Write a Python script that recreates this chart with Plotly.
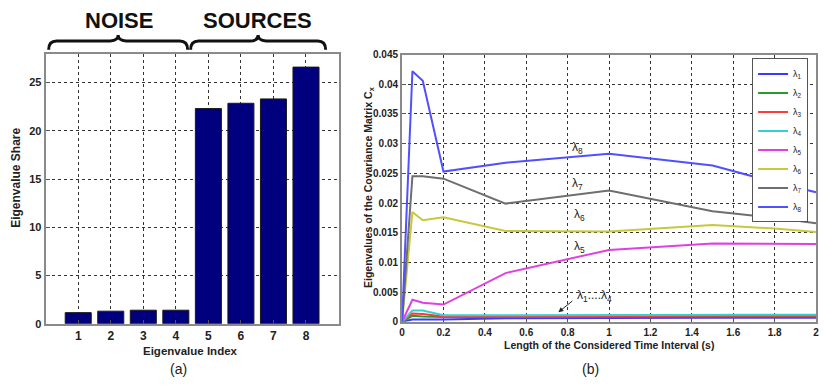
import plotly.graph_objects as go

W, H = 823, 389

# ---- panel (a): eigenvalue shares ----
eig_index = [1, 2, 3, 4, 5, 6, 7, 8]
eig_share = [1.15, 1.3, 1.4, 1.4, 22.3, 22.85, 23.3, 26.6]

# ---- panel (b): eigenvalues vs. interval length ----
interval_s = [0, 0.05, 0.1, 0.2, 0.5, 1.0, 1.5, 1.8, 2.0]
lam1 = [0, 0.0004, 0.0004, 0.0004, 0.0006, 0.0007, 0.0007, 0.0007, 0.0007]
lam2 = [0, 0.0010, 0.0009, 0.0008, 0.0008, 0.0009, 0.0009, 0.0009, 0.0009]
lam3 = [0, 0.0014, 0.0013, 0.0009, 0.0009, 0.0010, 0.0010, 0.0010, 0.0010]
lam4 = [0, 0.0019, 0.0019, 0.0011, 0.0011, 0.0011, 0.0012, 0.0012, 0.0012]
lam5 = [0, 0.0037, 0.0032, 0.0029, 0.0082, 0.0121, 0.0132, 0.0132, 0.0131]
lam6 = [0, 0.0185, 0.0171, 0.0176, 0.0153, 0.0152, 0.0163, 0.0157, 0.0151]
lam7 = [0, 0.0245, 0.0245, 0.0241, 0.0199, 0.0221, 0.0186, 0.0175, 0.0166]
lam8 = [0, 0.0422, 0.0406, 0.0253, 0.0268, 0.0283, 0.0263, 0.0235, 0.0218]
series = [lam1, lam2, lam3, lam4, lam5, lam6, lam7, lam8]
series_names = ["λ<sub>%d</sub>" % i for i in range(1, 9)]
series_colors = ["#3a3aff", "#2a9a2a", "#ff3a3a", "#35d0d0",
                 "#e040e0", "#c8c83c", "#6e6e6e", "#5050ff"]

FONT = "Liberation Sans, Arial, sans-serif"


def px(x):
    return x / W


def py(y):
    return 1 - y / H


fig = go.Figure()

fig.add_trace(go.Bar(
    x=eig_index, y=eig_share, width=0.8,
    marker=dict(color="#00007f", line=dict(color="#1a1a1a", width=1)),
    xaxis="x", yaxis="y", showlegend=False,
))

for name, vals, col in zip(series_names, series, series_colors):
    fig.add_trace(go.Scatter(
        x=interval_s, y=vals, mode="lines", name=name,
        line=dict(color=col, width=2),
        xaxis="x2", yaxis="y2",
    ))


def axis_style(size):
    return dict(
        showline=True, linecolor="#8a8a8a", linewidth=2, mirror=True,
        showgrid=True, gridcolor="#333333", griddash="dot", gridwidth=1,
        ticks="inside", ticklen=4, tickcolor="#555555",
        tickfont=dict(family=FONT, size=size, color="#222222", weight="bold"),
        zeroline=False,
    )


fig.update_layout(
    width=W, height=H,
    margin=dict(l=0, r=0, t=0, b=0),
    paper_bgcolor="white", plot_bgcolor="white",
    font=dict(family=FONT, color="#222222"),
    bargap=0.2,
    xaxis=dict(domain=[px(43), px(338)], range=[0, 9],
               tickvals=eig_index, **axis_style(12)),
    yaxis=dict(domain=[py(328), py(50)], range=[0, 28],
               tickvals=[0, 5, 10, 15, 20, 25], **axis_style(11)),
    xaxis2=dict(domain=[px(402), px(819)], range=[0, 2], dtick=0.2,
                anchor="y2", **axis_style(10)),
    yaxis2=dict(domain=[py(326), py(51)], range=[0, 0.045], dtick=0.005,
                anchor="x2", **axis_style(10)),
    legend=dict(
        x=px(811), y=py(55), xanchor="right", yanchor="top",
        bgcolor="white", bordercolor="#555555", borderwidth=1,
        font=dict(family=FONT, size=9, color="#222222"),
        itemwidth=30, tracegroupgap=0,
    ),
)

# axis titles and panel captions
notes = [
    dict(x=px(13), y=py(178), text="<b>Eigenvalue Share</b>", textangle=-90, size=12),
    dict(x=px(189), y=py(356), text="<b>Eigenvalue Index</b>", textangle=0, size=11.5),
    dict(x=px(177), y=py(375), text="(a)", textangle=0, size=14),
    dict(x=px(368), y=py(187),
         text="<b>Eigenvalues of the Covariance Matrix C<sub>x</sub></b>",
         textangle=-90, size=10.5),
    dict(x=px(610), y=py(350),
         text="<b>Length of the Considered Time Interval (s)</b>", textangle=0, size=10.5),
    dict(x=px(592), y=py(375), text="(b)", textangle=0, size=14),
]
for n in notes:
    fig.add_annotation(x=n["x"], y=n["y"], xref="paper", yref="paper",
                       xanchor="center", yanchor="middle",
                       text=n["text"], textangle=n["textangle"], showarrow=False,
                       font=dict(family=FONT, size=n["size"], color="#222222"))

# group headings over the bars
for label, cx in [("NOISE", 117), ("SOURCES", 256)]:
    fig.add_annotation(x=px(cx), y=py(16), xref="paper", yref="paper",
                       xanchor="center", yanchor="middle",
                       text="<b>%s</b>" % label, showarrow=False,
                       font=dict(family="Liberation Sans Narrow, Arial Narrow, sans-serif",
                                 size=22, color="#111111"))


def brace(x1, x2, yb, yl, yt, r=8):
    xm = (x1 + x2) / 2
    pts = [
        "M %f,%f" % (px(x1), py(yb)),
        "Q %f,%f %f,%f" % (px(x1), py(yl), px(x1 + r), py(yl)),
        "L %f,%f" % (px(xm - r), py(yl)),
        "Q %f,%f %f,%f" % (px(xm), py(yl), px(xm), py(yt)),
        "Q %f,%f %f,%f" % (px(xm), py(yl), px(xm + r), py(yl)),
        "L %f,%f" % (px(x2 - r), py(yl)),
        "Q %f,%f %f,%f" % (px(x2), py(yl), px(x2), py(yb)),
    ]
    return " ".join(pts)


for x1, x2 in [(46, 186), (189, 325)]:
    fig.add_shape(type="path", xref="paper", yref="paper",
                  path=brace(x1, x2, 46, 37, 31),
                  line=dict(color="#111111", width=3))

# curve labels in panel (b)
curve_labels = [
    (0.85, 0.0293, "λ<sub>8</sub>"),
    (0.85, 0.0232, "λ<sub>7</sub>"),
    (0.855, 0.0180, "λ<sub>6</sub>"),
    (0.855, 0.0126, "λ<sub>5</sub>"),
]
for xv, yv, t in curve_labels:
    fig.add_annotation(x=xv, y=yv, xref="x2", yref="y2", text=t, showarrow=False,
                       xanchor="center", yanchor="middle",
                       font=dict(family=FONT, size=12, color="#222222"))

fig.add_annotation(x=0.755, y=0.0016, xref="x2", yref="y2",
                   ax=0.83, ay=0.0037, axref="x2", ayref="y2",
                   text="", showarrow=True, arrowhead=2, arrowsize=1,
                   arrowwidth=1, arrowcolor="#222222")
fig.add_annotation(x=0.93, y=0.0043, xref="x2", yref="y2",
                   xanchor="center", yanchor="middle",
                   text="λ<sub>1</sub>....λ<sub>4</sub>", showarrow=False,
                   font=dict(family=FONT, size=12, color="#222222"))

fig.write_html("out.html")
